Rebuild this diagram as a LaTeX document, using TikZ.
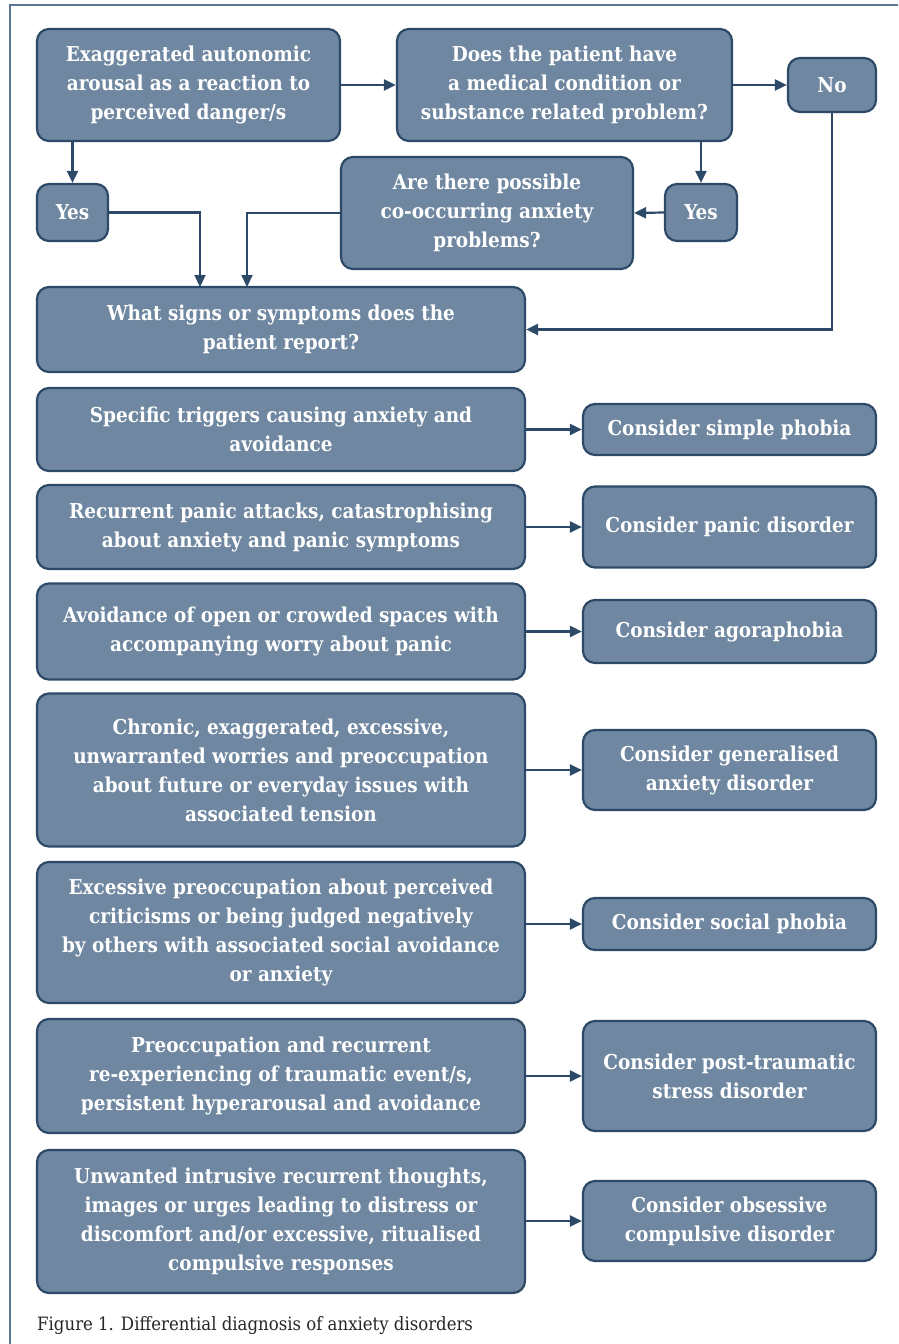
\documentclass[tikz,border=0pt]{standalone}
\usepackage{fontspec}
\setmainfont{DejaVu Serif Condensed}
\usetikzlibrary{arrows.meta}
\definecolor{boxfill}{RGB}{111,135,160}
\definecolor{boxline}{RGB}{44,74,104}
\definecolor{framecol}{RGB}{90,116,145}
\tikzset{
  box/.style={draw=boxline, line width=2.2pt, fill=boxfill, rounded corners=12pt,
    text=white, font=\bfseries\fontsize{20.5}{29}\selectfont, align=center, inner sep=0pt},
  lbox/.style={box, minimum width=488pt},
  rbox/.style={box, minimum width=293pt},
  arr/.style={draw=boxline, line width=2.2pt, -{Triangle[length=12pt,width=11pt]}}
}
\begin{document}
\begin{tikzpicture}[x=1pt,y=-1pt]
\useasboundingbox (0,0) rectangle (898,1344);
\draw[framecol, line width=1.5pt] (898,5) -- (10,5) -- (10,1344);

\node[box, minimum width=303pt, minimum height=112pt] (A) at (188.5,85) {Exaggerated autonomic\\arousal as a reaction to\\perceived danger/s};
\node[box, minimum width=335pt, minimum height=112pt] (B) at (564.5,85) {Does the patient have\\a medical condition or\\substance related problem?};
\node[box, minimum width=88pt, minimum height=54pt] (No) at (832,85) {No};
\node[box, minimum width=71pt, minimum height=57pt] (Y1) at (72.5,212.5) {Yes};
\node[box, minimum width=72pt, minimum height=57pt] (Y2) at (701,212.5) {Yes};
\node[box, minimum width=292pt, minimum height=112pt] (C) at (487,213) {Are there possible\\co-occurring anxiety\\problems?};
\node[lbox, minimum height=85pt] (D) at (281,329.5) {What signs or symptoms does the\\patient report?};

\node[lbox, minimum height=83pt] (L1) at (281,429.5) {Specific triggers causing anxiety and\\avoidance};
\node[rbox, minimum height=51pt] (R1) at (729.5,429.5) {Consider simple phobia};
\node[lbox, minimum height=84pt] (L2) at (281,527) {Recurrent panic attacks, catastrophising\\about anxiety and panic symptoms};
\node[rbox, minimum height=81pt] (R2) at (729.5,527) {Consider panic disorder};
\node[lbox, minimum height=96pt] (L3) at (281,631.5) {Avoidance of open or crowded spaces with\\accompanying worry about panic};
\node[rbox, minimum height=63pt] (R3) at (729.5,631.5) {Consider agoraphobia};
\node[lbox, minimum height=153pt] (L4) at (281,770) {Chronic, exaggerated, excessive,\\unwarranted worries and preoccupation\\about future or everyday issues with\\associated tension};
\node[rbox, minimum height=80pt] (R4) at (729.5,770) {Consider generalised\\anxiety disorder};
\node[lbox, minimum height=141pt] (L5) at (281,932.5) {Excessive preoccupation about perceived\\criticisms or being judged negatively\\by others with associated social avoidance\\or anxiety};
\node[rbox, minimum height=52pt] (R5) at (729.5,924) {Consider social phobia};
\node[lbox, minimum height=114pt] (L6) at (281,1076) {Preoccupation and recurrent\\re-experiencing of traumatic event/s,\\persistent hyperarousal and avoidance};
\node[rbox, minimum height=110pt] (R6) at (729.5,1076) {Consider post-traumatic\\stress disorder};
\node[lbox, minimum height=143pt] (L7) at (281,1221.5) {Unwanted intrusive recurrent thoughts,\\images or urges leading to distress or\\discomfort and/or excessive, ritualised\\compulsive responses};
\node[rbox, minimum height=80pt] (R7) at (729.5,1221) {Consider obsessive\\compulsive disorder};

\node[anchor=west, inner sep=0pt, font=\fontsize{18.4}{22}\selectfont, text=black!85] (cap) at (37,1326) {Figure 1. Differential diagnosis of anxiety disorders};

\coordinate (d1) at (200,287);
\coordinate (d2) at (247,287);
\draw[arr] (A.east) -- (B.west);
\draw[arr] (B.east) -- (No.west);
\draw[arr] (A.south -| Y1.north) -- (Y1.north);
\draw[arr] (B.south -| Y2.north) -- (Y2.north);
\draw[arr] (Y2.west) -- (C.east);
\draw[arr] (Y1.east) -| (d1);
\draw[arr] (C.west) -| (d2);
\draw[arr] (No.south) |- (D.east);
\foreach \i in {1,...,7} {
  \draw[arr] (L\i.east |- R\i.west) -- (R\i.west);
}
\end{tikzpicture}
\end{document}
